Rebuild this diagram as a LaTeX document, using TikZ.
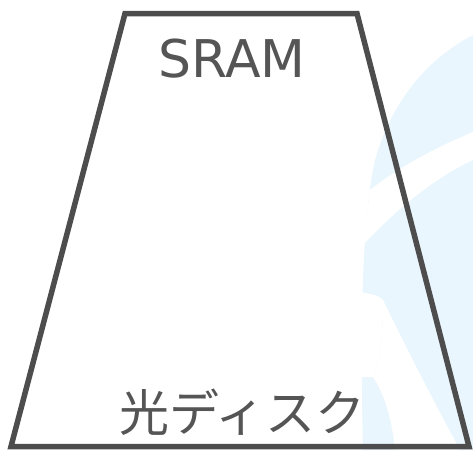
\documentclass[tikz,border=0pt]{standalone}
\usepackage{fontspec}
\newfontfamily\latinfont{DejaVu Sans}
\newfontfamily\cjkfont{Noto Sans CJK JP}
\definecolor{edgegray}{HTML}{4D4D4D}
\definecolor{textgray}{HTML}{555555}
\definecolor{wmblue}{HTML}{EAF6FD}
\tikzset{
  px/.style={x=1pt,y=-1pt},
  outline/.style={draw=edgegray,line width=5.5pt,line join=miter},
  label/.style={text=textgray,inner sep=0pt},
}
\begin{document}
\begin{tikzpicture}[px]
\useasboundingbox (0,0) rectangle (473,450);
% faint watermark
\fill[wmblue] (473,35) .. controls (425,60) and (390,105) .. (375,160)
  .. controls (362,220) and (360,320) .. (363,450) -- (473,450) -- cycle;
\fill[white] (363,245) .. controls (400,205) and (440,175) .. (473,160)
  -- (473,132) .. controls (430,150) and (395,170) .. (370,190) -- cycle;
\fill[white] (360,292) .. controls (372,294) and (380,296) .. (383,300)
  .. controls (383,340) and (380,360) .. (373,377)
  -- (360,377) -- cycle;
\fill[white] (383,300) .. controls (405,345) and (430,395) .. (460,450)
  -- (395,450) .. controls (392,420) and (385,395) .. (373,377)
  .. controls (380,360) and (383,340) .. (383,300) -- cycle;
% trapezoid
\coordinate (tl) at (125,13.5);
\coordinate (tr) at (357,13.5);
\coordinate (br) at (469,446.5);
\coordinate (bl) at (11,446.5);
\draw[outline] (tl) -- (tr) -- (br) -- (bl) -- cycle;
% labels
\node[label,anchor=base,font=\latinfont\fontsize{52}{52}\selectfont] (top) at (232,77.3) {SRAM};
\node[label,anchor=base,font=\cjkfont\fontsize{50}{50}\selectfont] (bottom) at (242.5,431.5) {光ディスク};
\end{tikzpicture}
\end{document}
